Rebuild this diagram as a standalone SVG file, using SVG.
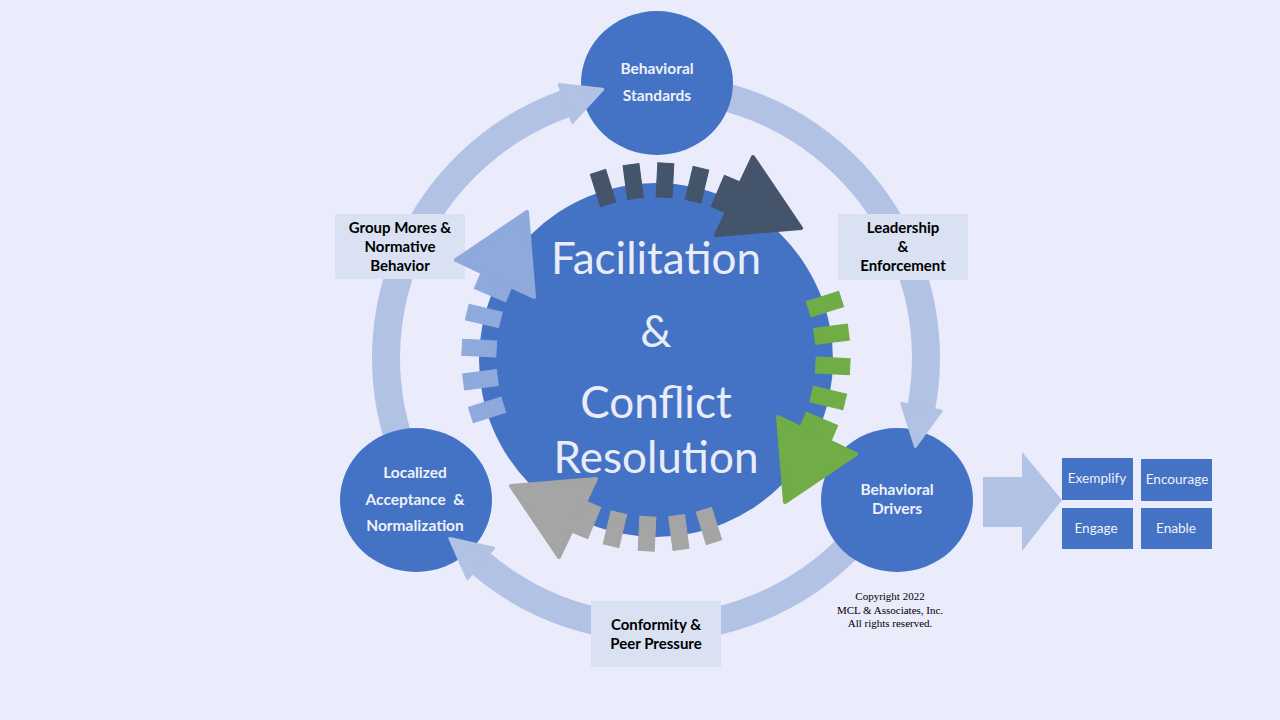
<svg xmlns="http://www.w3.org/2000/svg" xmlns:xlink="http://www.w3.org/1999/xlink" width="1280" height="720" viewBox="0 0 1280 720">
<style>
.ring{fill:#B1C2E4}
.node{fill:#4472C4}
.ntxt{font-family:Lato,"Liberation Sans",sans-serif;font-weight:bold;font-size:15.5px;fill:#EEF1FA;text-anchor:middle}
.lbox{fill:#D9E1F2}
.ltxt{font-family:Lato,"Liberation Sans",sans-serif;font-weight:bold;font-size:15px;fill:#000;text-anchor:middle}
.big{font-family:Lato,"Liberation Sans",sans-serif;font-size:44px;fill:#E9ECF9;text-anchor:middle}
.btxt{font-family:Lato,"Liberation Sans",sans-serif;font-size:13.6px;fill:#EEF1FA;text-anchor:middle}
.copy{font-family:"Liberation Serif",serif;font-size:11px;fill:#000;text-anchor:middle}
</style>
<defs>
<path id="band" d="M410.05,500 A284,284 0 0 1 561.2,90.3 L570.55,116.7 A256,256 0 0 0 434.3,486 Z"/>
<polygon id="ohead" points="559.2,84.6 602.8,89.2 572.55,122.35" stroke="#B1C2E4" stroke-width="3" stroke-linejoin="round"/>
<rect id="dash" x="-8" y="-194" width="16" height="34"/>
<g id="ia">
<use href="#dash" transform="rotate(-17.4)"/>
<use href="#dash" transform="rotate(-7.4)"/>
<use href="#dash" transform="rotate(2.9)"/>
<use href="#dash" transform="rotate(13.4)"/>
<use href="#dash" transform="rotate(23)"/>
<polygon points="97,-200 145,-129 60,-122" stroke-width="4" stroke-linejoin="round"/>
</g>
</defs>
<rect width="1280" height="720" fill="#EAEBFB"/>
<g id="connectors">
<use href="#band" class="ring"/>
<use href="#band" class="ring" transform="rotate(120 656 358)"/>
<use href="#band" class="ring" transform="rotate(240 656 358)"/>
</g>
<g id="node-standards">
<ellipse class="node" cx="657" cy="83" rx="76" ry="72"/>
<text class="ntxt" x="657" y="74">Behavioral</text>
<text class="ntxt" x="657" y="101">Standards</text>
</g>
<g id="node-drivers">
<ellipse class="node" cx="897" cy="500" rx="76" ry="72"/>
<text class="ntxt" x="897" y="495">Behavioral</text>
<text class="ntxt" x="897" y="514">Drivers</text>
</g>
<g id="node-localized">
<ellipse class="node" cx="416" cy="500" rx="76" ry="72"/>
<text class="ntxt" x="415" y="478">Localized</text>
<text class="ntxt" x="415" y="505" xml:space="preserve">Acceptance  &amp;</text>
<text class="ntxt" x="415" y="531">Normalization</text>
</g>
<g id="connector-heads" class="ring">
<use href="#ohead"/>
<use href="#ohead" transform="rotate(120 656 358)"/>
<use href="#ohead" transform="rotate(240 656 358)"/>
</g>
<g id="label-group-mores">
<rect class="lbox" x="335" y="214" width="130" height="65"/>
<text class="ltxt" x="400" y="233">Group Mores &amp;</text>
<text class="ltxt" x="400" y="252">Normative</text>
<text class="ltxt" x="400" y="271">Behavior</text>
</g>
<g id="label-leadership">
<rect class="lbox" x="838" y="214" width="130" height="66"/>
<text class="ltxt" x="903" y="233">Leadership</text>
<text class="ltxt" x="903" y="252">&amp;</text>
<text class="ltxt" x="903" y="271">Enforcement</text>
</g>
<g id="label-conformity">
<rect class="lbox" x="591" y="601" width="130" height="66"/>
<text class="ltxt" x="656" y="630">Conformity &amp;</text>
<text class="ltxt" x="656" y="649">Peer Pressure</text>
</g>
<g id="node-center">
<circle class="node" cx="656" cy="360" r="177"/>
</g>
<g id="inner-arrows">
<use href="#ia" fill="#44546A" stroke="#44546A" transform="translate(656 357)"/>
<use href="#ia" fill="#70AD47" stroke="#70AD47" transform="translate(656 357) rotate(90)"/>
<use href="#ia" fill="#A5A5A5" stroke="#A5A5A5" transform="translate(656 357) rotate(180)"/>
<use href="#ia" fill="#8EA9DB" stroke="#8EA9DB" transform="translate(656 357) rotate(270)"/>
</g>
<g id="center-text">
<text class="big" x="656" y="274">Facilitation</text>
<text class="big" x="656" y="347">&amp;</text>
<text class="big" x="656" y="418">Conflict</text>
<text class="big" x="656" y="473">Resolution</text>
</g>
<g id="right-arrow">
<polygon class="ring" points="983,477 1022,477 1022,452 1062,500 1022,551 1022,527 983,527"/>
</g>
<g id="box-exemplify">
<rect class="node" x="1062" y="458" width="71" height="42"/>
<text class="btxt" x="1097" y="483">Exemplify</text>
</g>
<g id="box-encourage">
<rect class="node" x="1141" y="459" width="71" height="42"/>
<text class="btxt" x="1177" y="483.5">Encourage</text>
</g>
<g id="box-engage">
<rect class="node" x="1062" y="508" width="71" height="41"/>
<text class="btxt" x="1096" y="533">Engage</text>
</g>
<g id="box-enable">
<rect class="node" x="1141" y="508" width="71" height="41"/>
<text class="btxt" x="1176" y="533">Enable</text>
</g>
<g id="copyright">
<text class="copy" x="890" y="600">Copyright 2022</text>
<text class="copy" x="890" y="613.5">MCL &amp; Associates, Inc.</text>
<text class="copy" x="890" y="626.5">All rights reserved.</text>
</g>
</svg>
